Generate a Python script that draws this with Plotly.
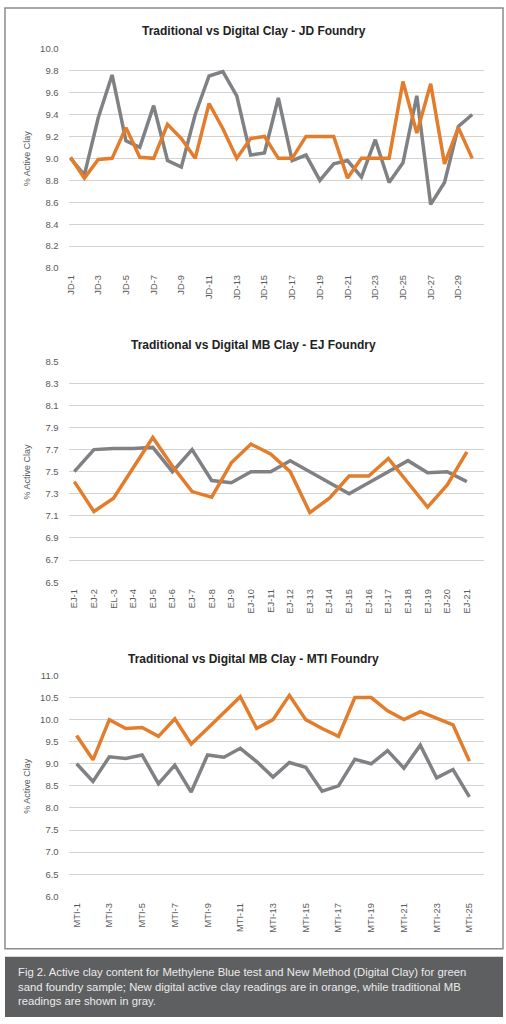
import plotly.graph_objects as go

W, H = 506, 1024

# ---- data ----
jd_labels = [f"JD-{i}" for i in range(1, 31)]
jd_traditional = [9.00, 8.85, 9.37, 9.76, 9.16, 9.10, 9.48, 8.98, 8.92, 9.40,
                  9.75, 9.79, 9.57, 9.03, 9.05, 9.55, 8.98, 9.03, 8.80, 8.95,
                  8.98, 8.83, 9.17, 8.78, 8.96, 9.57, 8.58, 8.78, 9.29, 9.40]
jd_digital = [9.01, 8.82, 8.99, 9.00, 9.28, 9.01, 9.00, 9.31, 9.18, 9.00,
              9.50, 9.27, 9.00, 9.18, 9.20, 9.00, 9.00, 9.20, 9.20, 9.20,
              8.82, 9.00, 9.00, 9.00, 9.70, 9.23, 9.68, 8.95, 9.28, 9.00]

ej_labels = ["EJ-1", "EJ-2", "EL-3"] + [f"EJ-{i}" for i in range(4, 22)]
ej_traditional = [7.50, 7.70, 7.71, 7.71, 7.72, 7.50, 7.70, 7.42, 7.40, 7.50,
                  7.50, 7.60, 7.50, 7.40, 7.30, 7.40, 7.50, 7.60, 7.49, 7.50,
                  7.41]
ej_digital = [7.41, 7.14, 7.26, 7.53, 7.81, 7.55, 7.32, 7.27, 7.58, 7.75,
              7.66, 7.50, 7.13, 7.26, 7.46, 7.46, 7.62, 7.40, 7.18, 7.38,
              7.68]

mti_labels = [f"MTI-{i}" for i in range(1, 26)]
mti_traditional = [9.00, 8.60, 9.16, 9.12, 9.20, 8.55, 8.97, 8.36, 9.20, 9.15,
                   9.35, 9.05, 8.70, 9.03, 8.92, 8.38, 8.50, 9.10, 9.00, 9.30,
                   8.90, 9.42, 8.68, 8.87, 8.25]
mti_digital = [9.64, 9.09, 10.00, 9.80, 9.82, 9.62, 10.02, 9.45, 9.80, 10.15,
               10.52, 9.80, 10.00, 10.55, 10.00, 9.80, 9.62, 10.50, 10.50, 10.20,
               10.00, 10.18, 10.02, 9.88, 9.06]

titles = ["Traditional vs Digital Clay - JD Foundry",
          "Traditional vs Digital MB Clay - EJ Foundry",
          "Traditional vs Digital MB Clay - MTI Foundry"]
caption = ("Fig 2. Active clay content for Methylene Blue test and New Method (Digital Clay) for green<br>"
           "sand foundry sample; New digital active clay readings are in orange, while traditional MB<br>"
           "readings are shown in gray.")

ORANGE = "#e37d2c"
GRAY = "#7f8184"
GRID = "#d2d2d2"
TXT = "#595959"
FONT = "Liberation Sans, Arial, sans-serif"


def py(p):  # pixel from top -> paper y
    return 1 - p / H


def px(p):
    return p / W


panels = [
    # labels, trad, digital, yrange, dtick, ytop px, ybottom px, xrange, tick step, title y
    (jd_labels, jd_traditional, jd_digital, (8.0, 10.0), 0.2, 43, 265, (-0.14, 29.86), 2, 25),
    (ej_labels, ej_traditional, ej_digital, (6.5, 8.5), 0.2, 359, 582.5, (-0.29, 20.88), 1, 343),
    (mti_labels, mti_traditional, mti_digital, (6.0, 11.0), 0.5, 676.7, 900, (-0.49, 24.9), 2, 660),
]

fig = go.Figure()
annotations = []

for k, (labels, trad, dig, yr, dt, ytop, ybot, xr, step, ty) in enumerate(panels):
    n = k + 1
    xa = "x" if n == 1 else f"x{n}"
    ya = "y" if n == 1 else f"y{n}"
    fig.add_trace(go.Scatter(x=labels, y=trad, mode="lines", xaxis=xa, yaxis=ya,
                             line=dict(color=GRAY, width=3.5), showlegend=False))
    fig.add_trace(go.Scatter(x=labels, y=dig, mode="lines", xaxis=xa, yaxis=ya,
                             line=dict(color=ORANGE, width=3.5), showlegend=False))
    fig.update_layout({
        f"xaxis{'' if n == 1 else n}": dict(
            domain=[px(66), px(484)], anchor=ya, type="category",
            categoryorder="array", categoryarray=labels,
            range=list(xr), tickvals=labels[::step], tickangle=-90,
            showgrid=False, zeroline=False, showline=False, ticks="",
            ticklabelstandoff=4,
            tickfont=dict(family=FONT, size=9.3, color=TXT)),
        f"yaxis{'' if n == 1 else n}": dict(
            domain=[py(ybot), py(ytop)], anchor=xa,
            range=[yr[0] - 0.0005, yr[1] + 0.0005], dtick=dt, tick0=yr[0],
            tickformat=".1f", showgrid=True, gridcolor=GRID, gridwidth=1.2,
            zeroline=False, showline=False, ticks="", ticklabelstandoff=9,
            tickfont=dict(family=FONT, size=9.5, color=TXT)),
    })
    annotations.append(dict(text=f"<b>{titles[k]}</b>", x=px(252), y=py(ty),
                            xref="paper", yref="paper", showarrow=False,
                            xanchor="center", yanchor="middle",
                            font=dict(family=FONT, size=12, color="#222222")))
    annotations.append(dict(text="% Active Clay", x=px(24), y=py((ytop + ybot) / 2),
                            xref="paper", yref="paper", showarrow=False, textangle=-90,
                            xanchor="center", yanchor="middle",
                            font=dict(family=FONT, size=9, color=TXT)))

annotations.append(dict(text=caption, x=px(13), y=py(968), xref="paper", yref="paper",
                        showarrow=False, xanchor="left", yanchor="top", align="left",
                        font=dict(family=FONT, size=11.3, color="#ebebeb")))

shapes = [
    dict(type="rect", xref="paper", yref="paper", x0=px(2), x1=px(503),
         y0=py(953), y1=py(2), line=dict(color="#8c8c8c", width=1.5)),
    dict(type="rect", xref="paper", yref="paper", x0=px(2), x1=px(503),
         y0=py(1022), y1=py(961), fillcolor="#5e5f61", line=dict(width=0), layer="below"),
]

fig.update_layout(width=W, height=H, margin=dict(l=0, r=0, t=0, b=0),
                  paper_bgcolor="white", plot_bgcolor="white",
                  annotations=annotations, shapes=shapes)

# drop the default body margin so the 506x1024 figure fills the window exactly
fig.write_html("out.html", config={"displayModeBar": False},
               post_script="document.body.style.margin='0';")
